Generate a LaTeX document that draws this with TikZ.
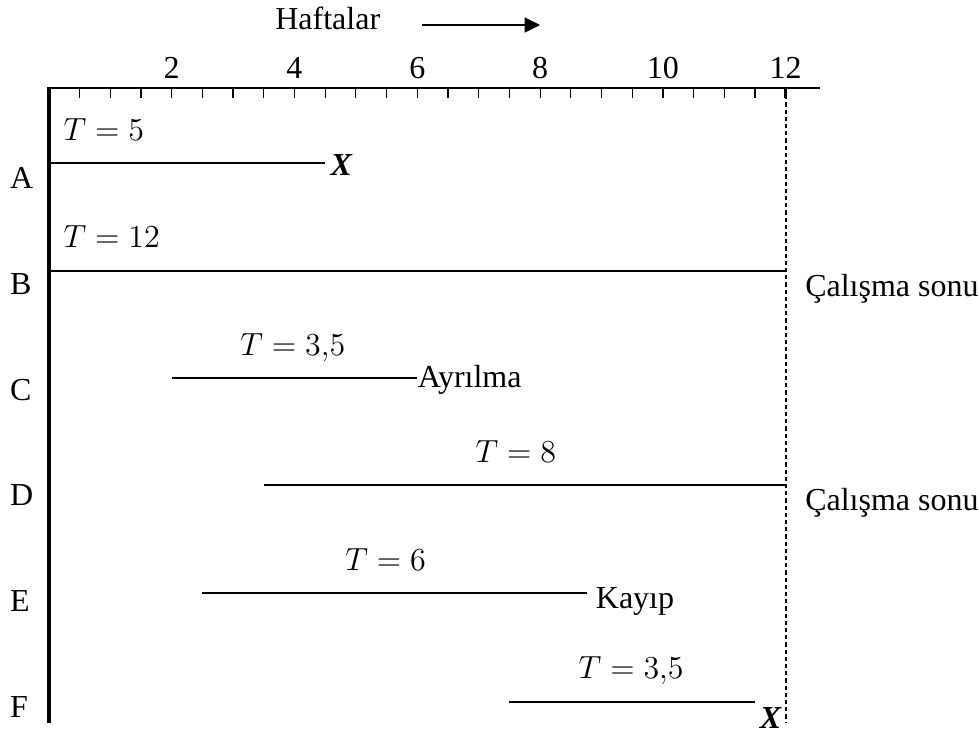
\documentclass[tikz,border=0pt]{standalone}
\usepackage{fontspec}
\setmainfont{Liberation Serif}
\usetikzlibrary{arrows.meta,positioning}

\begin{document}
\begin{tikzpicture}[
  x=23.025pt, y=-0.375pt,
  axis/.style={line width=1.1pt, line join=miter},
  tick/.style={line width=0.45pt},
  life/.style={line width=0.75pt},
  studyend/.style={line width=0.75pt, dash pattern=on 1.6pt off 1.1pt},
  txt/.style={anchor=base west, inner sep=0pt, font=\fontsize{12}{14}\selectfont},
  num/.style={anchor=base, inner sep=0pt, font=\fontsize{12}{14}\selectfont},
  arr/.style={-{Triangle[length=5.8pt, width=5.6pt]}, line width=0.7pt},
]
\useasboundingbox (-0.796,0) rectangle (15.148,731);

% Axes
\coordinate (origin) at (0,88);
\coordinate (bottom) at (0,723);
\coordinate (wk12)   at (12,88);
\coordinate (axend)  at (12.56,88);
\coordinate (dashend) at (12,722);

\foreach \w in {0.5,1,...,11.5}
  \draw[tick] (\w,88) -- (\w,98);
\draw[axis] (origin) -- (wk12);
\draw[axis, line width=1.5pt] ([yshift=0.55pt]origin) -- (bottom);
\draw[line width=0.5pt] (wk12) -- (axend);
\draw[axis] (12,87) -- (12,98);
\draw[studyend] (wk12) -- (dashend);

\foreach \w in {2,4,...,12}
  \node[num] (n\w) at (\w,78) {\w};

\node[txt] (weeks) at (3.68,30) {Haftalar};
\coordinate (arrstart) at (6.07,25);
\coordinate (arrend)   at (8.0,25);
\draw[arr] (arrstart) -- (arrend);

% Subjects
\node[txt] (rowA) at (-0.64,188) {A};
\node[txt] (rowB) at (-0.64,294) {B};
\node[txt] (rowC) at (-0.64,400) {C};
\node[txt] (rowD) at (-0.64,505) {D};
\node[txt] (rowE) at (-0.64,611) {E};
\node[txt] (rowF) at (-0.64,717) {F};

% A
\coordinate (a0) at (0,162.7);
\coordinate (a1) at (4.5,162.7);
\draw[life] (a0) -- (a1);
\node[txt] (tA) at (0.23,140) {$T = 5$};
\node[txt] (xA) at (4.58,175) {\textbf{\textit{X}}};

% B
\coordinate (b0) at (0,271);
\coordinate (b1) at (12,271);
\draw[life] (b0) -- (b1);
\node[txt] (tB) at (0.23,247) {$T = 12$};
\node[txt] (endB) at (12.31,296) {Çalışma sonu};

% C
\coordinate (c0) at (2,378);
\coordinate (c1) at (6,378);
\draw[life] (c0) -- (c1);
\node[txt] (tC) at (3.11,355) {$T = 3{,}5$};
\node[txt] (lostC) at (6.0,387) {Ayrılma};

% D
\coordinate (d0) at (3.5,485);
\coordinate (d1) at (12,485);
\draw[life] (d0) -- (d1);
\node[txt] (tD) at (6.94,462) {$T = 8$};
\node[txt] (endD) at (12.31,510) {Çalışma sonu};

% E
\coordinate (e0) at (2.5,593);
\coordinate (e1) at (8.76,593);
\draw[life] (e0) -- (e1);
\node[txt] (tE) at (4.82,570) {$T = 6$};
\node[txt] (lostE) at (8.9,608) {Kayıp};

% F
\coordinate (f0) at (7.5,702);
\coordinate (f1) at (11.5,702);
\draw[life] (f0) -- (f1);
\node[txt] (tF) at (8.62,678) {$T = 3{,}5$};
\node[txt] (xF) at (11.57,728) {\textbf{\textit{X}}};

\end{tikzpicture}
\end{document}
